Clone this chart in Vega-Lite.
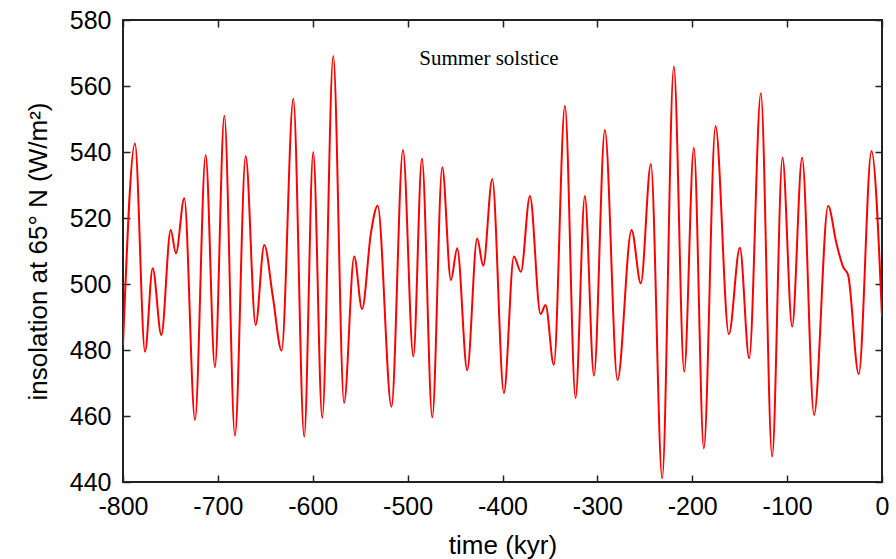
{
  "$schema": "https://vega.github.io/schema/vega-lite/v6.json",
  "width": 759,
  "height": 462,
  "autosize": {"type": "none"},
  "padding": {"left": 123, "top": 20, "right": 14, "bottom": 77},
  "background": "white",
  "config": {
    "view": {"stroke": "#222", "strokeWidth": 2},
    "axis": {
      "domain": false,
      "grid": false,
      "tickColor": "#222",
      "tickWidth": 1.5,
      "tickSize": 7,
      "offset": -7,
      "labelFont": "Liberation Sans",
      "labelFontSize": 25,
      "labelColor": "#000",
      "labelFlush": false,
      "labelOverlap": false,
      "titleFont": "Liberation Sans",
      "titleFontSize": 26,
      "titleFontWeight": "normal",
      "titleColor": "#000"
    }
  },
  "datasets": {
    "insolation": [
      {"t": -800, "v": 481.5},
      {"t": -787.4, "v": 542.6},
      {"t": -776.8, "v": 479.5},
      {"t": -768.7, "v": 504.8},
      {"t": -759.6, "v": 484.5},
      {"t": -749.7, "v": 516.4},
      {"t": -744.2, "v": 509.3},
      {"t": -735.4, "v": 526.0},
      {"t": -724.1, "v": 458.8},
      {"t": -712.9, "v": 539.1},
      {"t": -703.1, "v": 474.8},
      {"t": -693.2, "v": 551.0},
      {"t": -682.0, "v": 454.0},
      {"t": -670.7, "v": 538.8},
      {"t": -660.2, "v": 487.6},
      {"t": -651.1, "v": 511.8},
      {"t": -642.0, "v": 496.0},
      {"t": -632.8, "v": 479.8},
      {"t": -620.5, "v": 556.1},
      {"t": -609.0, "v": 453.7},
      {"t": -599.5, "v": 540.0},
      {"t": -590.0, "v": 459.4},
      {"t": -578.4, "v": 569.1},
      {"t": -567.0, "v": 464.0},
      {"t": -556.3, "v": 508.3},
      {"t": -548.0, "v": 492.4},
      {"t": -538.7, "v": 515.4},
      {"t": -531.6, "v": 523.7},
      {"t": -517.0, "v": 462.8},
      {"t": -504.9, "v": 540.6},
      {"t": -494.0, "v": 478.0},
      {"t": -484.9, "v": 538.0},
      {"t": -474.0, "v": 459.6},
      {"t": -463.5, "v": 535.4},
      {"t": -454.4, "v": 501.2},
      {"t": -447.7, "v": 510.8},
      {"t": -437.2, "v": 473.9},
      {"t": -426.7, "v": 513.8},
      {"t": -420.3, "v": 505.5},
      {"t": -410.8, "v": 531.8},
      {"t": -398.5, "v": 467.0},
      {"t": -388.0, "v": 508.3},
      {"t": -380.6, "v": 503.7},
      {"t": -371.1, "v": 526.7},
      {"t": -359.9, "v": 490.9},
      {"t": -354.6, "v": 493.6},
      {"t": -345.9, "v": 475.5},
      {"t": -334.2, "v": 554.0},
      {"t": -323.0, "v": 465.4},
      {"t": -313.2, "v": 526.7},
      {"t": -303.6, "v": 472.2},
      {"t": -292.1, "v": 546.7},
      {"t": -278.8, "v": 470.9},
      {"t": -264.0, "v": 516.4},
      {"t": -254.2, "v": 500.2},
      {"t": -243.6, "v": 536.4},
      {"t": -231.7, "v": 441.1},
      {"t": -219.4, "v": 565.9},
      {"t": -208.5, "v": 473.4},
      {"t": -198.3, "v": 541.3},
      {"t": -187.8, "v": 450.2},
      {"t": -175.5, "v": 547.9},
      {"t": -161.4, "v": 484.8},
      {"t": -149.8, "v": 511.0},
      {"t": -140.0, "v": 477.5},
      {"t": -127.7, "v": 557.8},
      {"t": -115.8, "v": 447.7},
      {"t": -104.9, "v": 538.3},
      {"t": -94.7, "v": 487.1},
      {"t": -84.2, "v": 538.3},
      {"t": -71.6, "v": 460.3},
      {"t": -56.8, "v": 523.6},
      {"t": -48.0, "v": 512.3},
      {"t": -41.0, "v": 505.2},
      {"t": -35.7, "v": 502.7},
      {"t": -24.5, "v": 472.7},
      {"t": -11.1, "v": 540.3},
      {"t": 0, "v": 490.0}
    ],
    "label": [
      {"t": -414.3, "v": 566.4, "text": "Summer solstice"}
    ]
  },
  "layer": [
    {
      "data": {"name": "insolation"},
      "mark": {"type": "line", "color": "#ff0000", "strokeWidth": 2, "interpolate": "monotone", "clip": true},
      "encoding": {
        "x": {
          "field": "t",
          "type": "quantitative",
          "scale": {"domain": [-800, 0], "nice": false, "zero": false},
          "axis": {
            "orient": "bottom",
            "title": "time (kyr)",
            "values": [-800, -700, -600, -500, -400, -300, -200, -100, 0],
            "labelExpr": "'' + datum.value",
            "labelPadding": 12,
            "titlePadding": 13
          }
        },
        "y": {
          "field": "v",
          "type": "quantitative",
          "scale": {"domain": [440, 580], "nice": false, "zero": false},
          "axis": {
            "orient": "left",
            "title": "insolation at 65° N (W/m²)",
            "values": [440, 460, 480, 500, 520, 540, 560, 580],
            "labelExpr": "'' + datum.value",
            "labelPadding": 12,
            "titlePadding": 18
          }
        }
      }
    },
    {
      "data": {"name": "label"},
      "mark": {"type": "text", "font": "Liberation Serif", "fontSize": 21, "align": "center", "baseline": "alphabetic", "color": "#000"},
      "encoding": {
        "x": {
          "field": "t",
          "type": "quantitative",
          "scale": {"domain": [-800, 0], "nice": false, "zero": false},
          "axis": {
            "orient": "top",
            "title": null,
            "labels": false,
            "values": [-800, -700, -600, -500, -400, -300, -200, -100, 0]
          }
        },
        "y": {
          "field": "v",
          "type": "quantitative",
          "scale": {"domain": [440, 580], "nice": false, "zero": false},
          "axis": {
            "orient": "right",
            "title": null,
            "labels": false,
            "values": [440, 460, 480, 500, 520, 540, 560, 580]
          }
        },
        "text": {"field": "text", "type": "nominal"}
      }
    }
  ],
  "resolve": {"axis": {"x": "independent", "y": "independent"}}
}
